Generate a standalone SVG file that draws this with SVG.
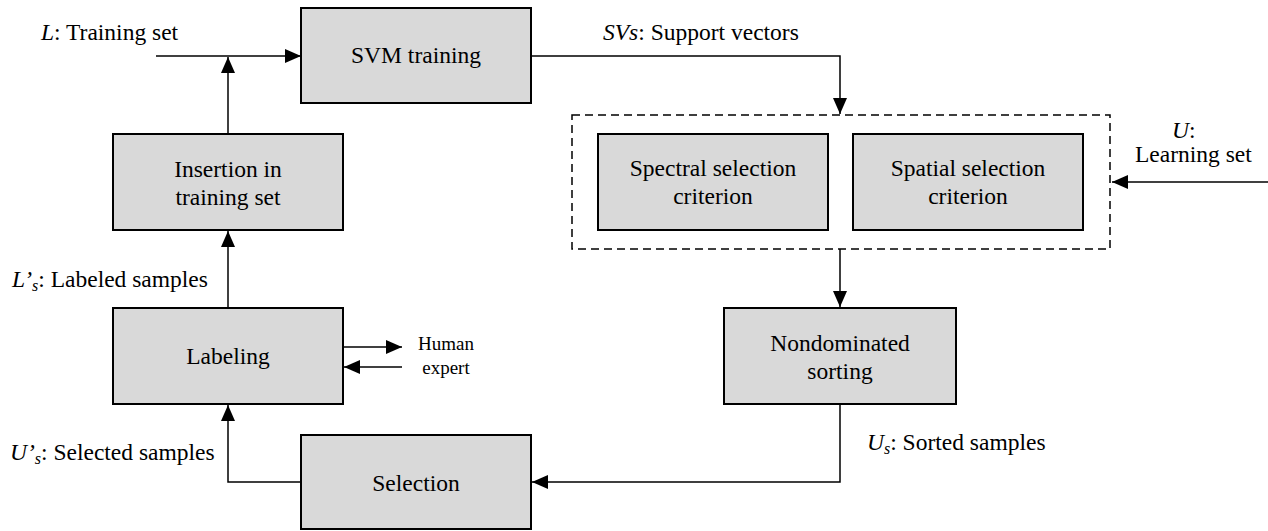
<svg xmlns="http://www.w3.org/2000/svg" width="1268" height="531" viewBox="0 0 1268 531">
<style>
.box{fill:#d9d9d9;stroke:#000;stroke-width:2}
.t{font-family:"Liberation Serif","Times New Roman",serif;font-size:23.5px;fill:#000}
.c{text-anchor:middle}
.h{font-size:19px}
.ln{fill:none;stroke:#000;stroke-width:1.5}
.dash{fill:none;stroke:#000;stroke-width:1.5;stroke-dasharray:8 5}
</style>
<defs>
<marker id="ah" viewBox="0 0 16 14" refX="16" refY="7" markerWidth="16" markerHeight="14" markerUnits="userSpaceOnUse" orient="auto">
<path d="M0,0 L16,7 L0,14 Z" fill="#000"/>
</marker>
</defs>
<rect width="1268" height="531" fill="#fff"/>

<g id="connectors">
<line class="ln" x1="156" y1="56" x2="301" y2="56" marker-end="url(#ah)"/>
<line class="ln" x1="228" y1="134" x2="228" y2="57" marker-end="url(#ah)"/>
<polyline class="ln" points="531,56 840,56 840,114" marker-end="url(#ah)"/>
<line class="ln" x1="1268" y1="182" x2="1112" y2="182" marker-end="url(#ah)"/>
<line class="ln" x1="840" y1="249" x2="840" y2="307" marker-end="url(#ah)"/>
<polyline class="ln" points="840,404 840,482 532,482" marker-end="url(#ah)"/>
<polyline class="ln" points="301,482 228,482 228,405" marker-end="url(#ah)"/>
<line class="ln" x1="228" y1="308" x2="228" y2="231" marker-end="url(#ah)"/>
<line class="ln" x1="344" y1="347" x2="402" y2="347" marker-end="url(#ah)"/>
<line class="ln" x1="402" y1="367" x2="344" y2="367" marker-end="url(#ah)"/>
</g>

<g id="label-L">
<text class="t" x="41" y="40"><tspan font-style="italic">L</tspan>: Training set</text>
</g>
<g id="label-SVs">
<text class="t" x="603" y="40"><tspan font-style="italic">SVs</tspan>: Support vectors</text>
</g>
<g id="label-U">
<text class="t" x="1172" y="138"><tspan font-style="italic">U</tspan>:</text>
<text class="t" x="1135" y="162">Learning set</text>
</g>
<g id="label-Ls">
<text class="t" x="12" y="287"><tspan font-style="italic">L’<tspan font-size="16" dy="4">s</tspan></tspan><tspan dy="-4">: Labeled samples</tspan></text>
</g>
<g id="label-Us2">
<text class="t" x="10" y="460"><tspan font-style="italic">U’<tspan font-size="16" dy="4">s</tspan></tspan><tspan dy="-4">: Selected samples</tspan></text>
</g>
<g id="label-Us">
<text class="t" x="867" y="450"><tspan font-style="italic">U<tspan font-size="16" dy="4">s</tspan></tspan><tspan dy="-4">: Sorted samples</tspan></text>
</g>

<g id="svm">
<rect class="box" x="301" y="8" width="230" height="95"/>
<text class="t c" x="416" y="63">SVM training</text>
</g>
<g id="criteria">
<rect class="dash" x="572" y="115" width="538" height="134"/>
</g>
<g id="spectral">
<rect class="box" x="598" y="134" width="230" height="96"/>
<text class="t c" x="713" y="176">Spectral selection</text>
<text class="t c" x="713" y="204">criterion</text>
</g>
<g id="spatial">
<rect class="box" x="853" y="134" width="230" height="96"/>
<text class="t c" x="968" y="176">Spatial selection</text>
<text class="t c" x="968" y="204">criterion</text>
</g>
<g id="insertion">
<rect class="box" x="113" y="134" width="230" height="96"/>
<text class="t c" x="228" y="177">Insertion in</text>
<text class="t c" x="228" y="205">training set</text>
</g>
<g id="labeling">
<rect class="box" x="113" y="308" width="230" height="96"/>
<text class="t c" x="228" y="364">Labeling</text>
</g>
<g id="human">
<text class="t c h" x="446" y="350">Human</text>
<text class="t c h" x="446" y="374">expert</text>
</g>
<g id="nondominated">
<rect class="box" x="724" y="308" width="232" height="96"/>
<text class="t c" x="840" y="351">Nondominated</text>
<text class="t c" x="840" y="379">sorting</text>
</g>
<g id="selection">
<rect class="box" x="301" y="435" width="230" height="94"/>
<text class="t c" x="416" y="491">Selection</text>
</g>
</svg>
